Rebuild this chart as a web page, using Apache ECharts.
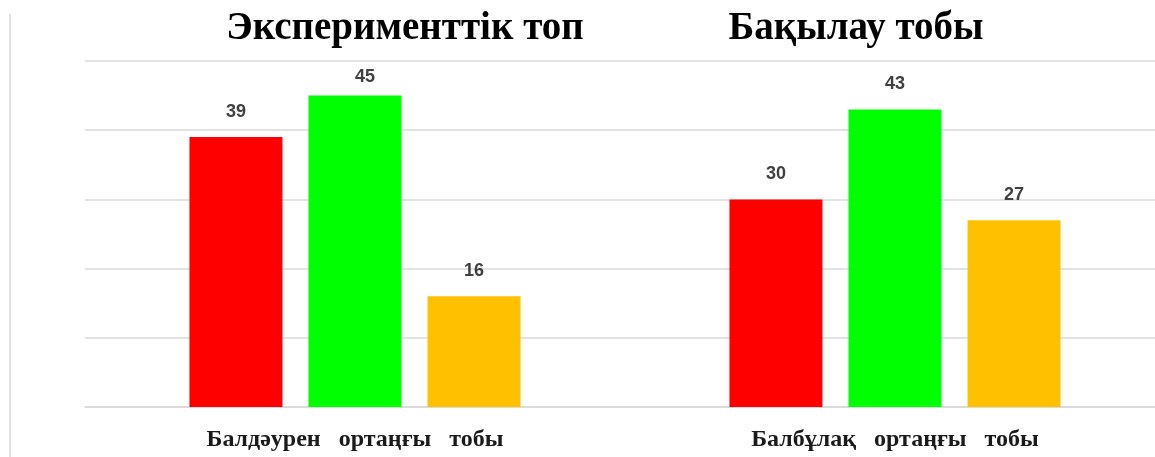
<!DOCTYPE html>
<html>
<head>
<meta charset="utf-8">
<script src="https://cdn.jsdelivr.net/npm/echarts@6/dist/echarts.min.js"></script>
<style>
  html, body { margin: 0; padding: 0; background: #fff; overflow: hidden; }
  #chart { width: 1165px; height: 457px; }
</style>
</head>
<body>
<div id="chart"></div>
<script>
    // data
    const groups = ['Балдәурен   ортаңғы   тобы', 'Балбұлақ   ортаңғы   тобы'];
    const groupTitles = ['Эксперименттік топ', 'Бақылау тобы'];
    const redValues = [39, 30];
    const greenValues = [45, 43];
    const orangeValues = [16, 27];
    const barColors = ['#ff0000', '#00ff00', '#ffc000'];

    const chart = echarts.init(document.getElementById('chart'));

    const label = {
        show: true,
        position: 'top',
        distance: 16,
        fontFamily: 'Liberation Sans Narrow, Liberation Sans, sans-serif',
        fontSize: 18,
        fontWeight: 'bold',
        color: '#404040'
    };

    function barSeries(values, color) {
        return {
            type: 'bar',
            data: values,
            barWidth: 93,
            barGap: '28%',
            itemStyle: { color: color },
            label: label,
            // keep labels below the top gridline, like the original
            labelLayout: function (params) {
                if (params.labelRect.y < 68) {
                    return { y: 68, verticalAlign: 'top' };
                }
            }
        };
    }

    const titleStyle = { fontFamily: 'Liberation Serif', fontSize: 39, fontWeight: 'bold', color: '#000' };

    // chart is 10px wider than the window so the plot runs off the right edge
    chart.setOption({
        animation: false,
        title: [
            { text: groupTitles[0], left: 400, top: 4, textAlign: 'center', textStyle: titleStyle },
            { text: groupTitles[1], left: 851, top: 4, textAlign: 'center', textStyle: titleStyle }
        ],
        grid: { left: 85, right: 0, top: 61, bottom: 50 },
        xAxis: {
            type: 'category',
            data: groups,
            axisLine: { lineStyle: { color: '#d9d9d9', width: 1.5 } },
            axisTick: { show: false },
            axisLabel: {
                margin: 21,
                fontFamily: 'Liberation Serif',
                fontSize: 24,
                fontWeight: 'bold',
                color: '#1a1a1a'
            }
        },
        yAxis: {
            type: 'value',
            min: 0,
            max: 50,
            interval: 10,
            axisLabel: { show: false },
            axisLine: { show: false },
            axisTick: { show: false },
            splitLine: { lineStyle: { color: '#d9d9d9', width: 1.5 } }
        },
        graphic: [{
            type: 'line',
            shape: { x1: 10, y1: 14, x2: 10, y2: 457 },
            style: { stroke: '#d9d9d9', lineWidth: 1.5 }
        }],
        series: [
            barSeries(redValues, barColors[0]),
            barSeries(greenValues, barColors[1]),
            barSeries(orangeValues, barColors[2])
        ]
    });
</script>
</body>
</html>
